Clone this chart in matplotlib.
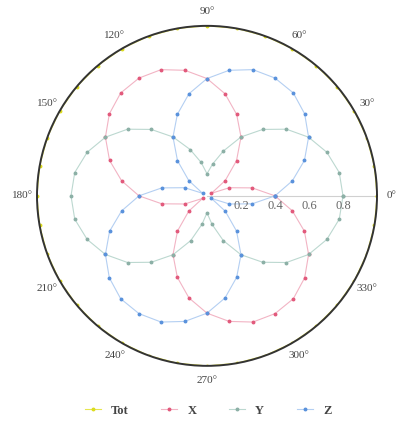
import numpy as np
import matplotlib.pyplot as plt
from matplotlib.transforms import offset_copy

# angles in degrees, 10 degree steps (closed)
angles = list(range(0, 370, 10))

tot = [1.0] * 37
x_vals = [0.40, 0.27, 0.14, 0.03, 0.14, 0.27, 0.40, 0.51, 0.61, 0.69, 0.75, 0.79,
          0.80, 0.79, 0.75, 0.69, 0.61, 0.51, 0.40, 0.27, 0.14, 0.03, 0.14, 0.27,
          0.40, 0.51, 0.61, 0.69, 0.75, 0.79, 0.80, 0.79, 0.75, 0.69, 0.61, 0.51, 0.40]
y_vals = [0.80, 0.79, 0.75, 0.69, 0.61, 0.51, 0.40, 0.28, 0.19, 0.13, 0.20, 0.29,
          0.40, 0.51, 0.61, 0.69, 0.75, 0.79, 0.80, 0.79, 0.75, 0.69, 0.61, 0.51,
          0.40, 0.28, 0.17, 0.10, 0.17, 0.28, 0.40, 0.51, 0.61, 0.69, 0.75, 0.79, 0.80]
z_vals = [0.40, 0.51, 0.61, 0.69, 0.75, 0.79, 0.80, 0.79, 0.75, 0.69, 0.61, 0.51,
          0.40, 0.27, 0.14, 0.03, 0.14, 0.27, 0.40, 0.51, 0.61, 0.69, 0.75, 0.79,
          0.80, 0.79, 0.75, 0.69, 0.61, 0.51, 0.40, 0.27, 0.14, 0.03, 0.14, 0.27, 0.40]

theta_labels = ["0°", "30°", "60°", "90°", "120°", "150°", "180°",
                "210°", "240°", "270°", "300°", "330°"]
r_ticks = [0.2, 0.4, 0.6, 0.8]

series = [("Tot", tot, "#e6e650", "#dcdc20"),
          ("X", x_vals, "#f2b4c4", "#e25a7c"),
          ("Y", y_vals, "#bcd8d0", "#8cb0a6"),
          ("Z", z_vals, "#b4cff2", "#5a92dc")]

plt.rcParams['font.family'] = ['Liberation Serif', 'DejaVu Serif']

fig = plt.figure(figsize=(4.0, 4.23), dpi=100)
ax = fig.add_axes([0.0925, 0.135, 0.85, 0.804], projection="polar")

th = np.deg2rad(angles)
for name, vals, lc, mc in series:
    ax.plot(th, vals, color=lc, linewidth=0.8, marker="o", markersize=1.8,
            markerfacecolor=mc, markeredgecolor=mc, label=name)

ax.set_ylim(0, 1)
ax.grid(False)
ax.axvline(0, color="#d0d0d0", linewidth=0.8, zorder=0)
ax.spines["polar"].set_color("#333333")
ax.spines["polar"].set_linewidth(1.4)

ax.set_thetagrids(np.arange(0, 360, 30), theta_labels)
ax.tick_params(axis="x", labelsize=8, colors="#444444", pad=0)

# radial labels sit centered just below the 0 degree line
ax.set_rticks(r_ticks)
ax.set_yticklabels([])
below = offset_copy(ax.transData, fig=fig, y=-3, units="points")
for v in r_ticks:
    ax.text(0, v, f"{v:.1f}", transform=below, ha="center", va="top",
            fontsize=9, color="#666666")

fig.legend(loc="lower center", bbox_to_anchor=(0.52, -0.012), ncol=4, frameon=False,
           prop={"size": 9, "weight": "bold"}, handlelength=1.3, columnspacing=2.6,
           labelcolor="#444444")

fig.savefig("out.png", dpi=100)
